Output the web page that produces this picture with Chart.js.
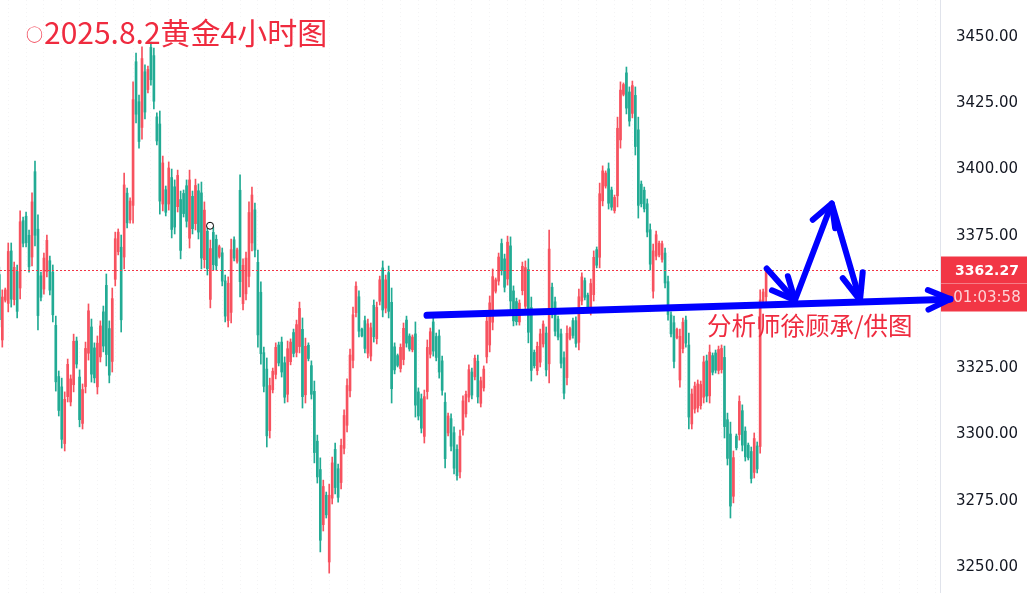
<!DOCTYPE html>
<html>
<head>
<meta charset="utf-8">
<script src="https://cdn.jsdelivr.net/npm/chart.js@4.4.1/dist/chart.umd.min.js"></script>
<style>
  html, body { margin: 0; padding: 0; background: #fff; overflow: hidden; }
  canvas { display: block; }
</style>
</head>
<body>
<canvas id="chart" width="1027" height="593"></canvas>
<script>
// 4h gold candles (oldest first)
const opens = [
  3360.4, 3335.7, 3350.7, 3349.5, 3369.3, 3350.9, 3361.5, 3355.3, 3380.7, 3382.4,
  3375.2, 3367.0, 3399.2, 3377.5, 3359.9, 3354.9, 3361.5, 3365.6, 3361.3, 3341.2,
  3321.9, 3318.0, 3296.6, 3314.3, 3312.3, 3318.8, 3335.3, 3321.7, 3304.2, 3318.1,
  3330.7, 3340.6, 3332.7, 3318.0, 3329.3, 3346.3, 3356.3, 3340.0, 3327.6, 3358.6,
  3369.0, 3370.7, 3367.0, 3391.1, 3381.0, 3386.5, 3440.7, 3425.6, 3415.9, 3436.9,
  3430.2, 3446.1, 3443.0, 3419.9, 3417.2, 3387.0, 3392.4, 3387.0, 3397.0, 3393.5,
  3386.0, 3388.7, 3391.0, 3393.9, 3374.1, 3389.9, 3379.6, 3392.0, 3391.2, 3366.0,
  3376.7, 3351.0, 3376.3, 3373.7, 3367.2, 3368.6, 3358.0, 3343.0, 3346.1, 3373.5,
  3365.4, 3392.2, 3349.4, 3353.1, 3359.7, 3372.3, 3384.8, 3365.0, 3353.7, 3330.9,
  3324.7, 3301.5, 3316.9, 3322.7, 3333.8, 3334.9, 3327.1, 3315.2, 3327.5, 3338.5,
  3331.0, 3333.2, 3339.7, 3315.0, 3333.7, 3326.0, 3316.3, 3297.5, 3286.8, 3266.0,
  3277.1, 3251.9, 3276.0, 3294.4, 3287.1, 3281.9, 3294.8, 3303.5, 3316.5, 3328.0,
  3346.0, 3352.0, 3339.8, 3343.0, 3330.7, 3329.6, 3348.8, 3336.2, 3350.3, 3362.9,
  3347.7, 3361.1, 3349.9, 3333.1, 3329.8, 3324.9, 3328.3, 3343.2, 3337.2, 3332.0,
  3338.0, 3316.1, 3313.5, 3299.3, 3316.2, 3330.3, 3342.5, 3337.0, 3337.2, 3327.8,
  3312.2, 3300.6, 3306.0, 3300.7, 3294.4, 3285.9, 3301.7, 3307.8, 3314.1, 3323.6,
  3321.8, 3327.7, 3311.8, 3317.6, 3329.3, 3333.8, 3342.4, 3354.1, 3357.9, 3372.1,
  3366.3, 3358.7, 3371.2, 3354.2, 3350.2, 3342.5, 3354.3, 3348.4, 3362.3, 3347.9,
  3331.0, 3324.1, 3327.3, 3334.2, 3338.3, 3326.7, 3355.6, 3350.1, 3343.6, 3338.0,
  3329.0, 3321.5, 3336.3, 3343.0, 3343.0, 3334.8, 3350.4, 3358.1, 3352.6, 3346.8,
  3352.8, 3369.8, 3366.9, 3388.2, 3393.8, 3400.3, 3392.3, 3384.5, 3390.1, 3411.2,
  3428.4, 3436.5, 3429.3, 3421.2, 3428.0, 3415.0, 3394.5, 3392.2, 3387.1, 3377.3,
  3354.1, 3367.3, 3367.8, 3366.1, 3368.5, 3357.7, 3345.1, 3342.2, 3336.6, 3320.6,
  3332.4, 3343.2, 3333.8, 3304.0, 3309.6, 3310.0, 3310.9, 3314.1, 3327.8, 3314.6,
  3329.8, 3330.8, 3324.2, 3324.5, 3329.1, 3305.6, 3300.2, 3276.7, 3299.4, 3300.0,
  3309.0, 3301.3, 3296.0, 3293.6, 3285.7, 3295.7, 3295.5, 3350.3, 3352.0
];
const highs = [
  3363.2, 3354.6, 3355.3, 3372.3, 3372.3, 3365.1, 3364.0, 3384.4, 3382.1, 3384.0,
  3377.2, 3391.2, 3403.2, 3382.9, 3361.3, 3368.5, 3375.3, 3367.4, 3364.0, 3344.7,
  3324.0, 3321.3, 3316.1, 3328.5, 3322.5, 3337.9, 3336.8, 3324.4, 3319.1, 3334.9,
  3349.3, 3343.6, 3334.6, 3337.2, 3342.9, 3348.5, 3360.6, 3342.9, 3355.3, 3376.4,
  3377.6, 3375.3, 3398.7, 3393.0, 3389.3, 3433.1, 3444.0, 3428.1, 3446.3, 3439.5,
  3439.1, 3448.1, 3445.9, 3421.4, 3422.1, 3405.1, 3393.8, 3402.9, 3400.2, 3396.1,
  3399.8, 3391.9, 3392.3, 3396.1, 3399.8, 3391.9, 3396.4, 3394.6, 3395.3, 3387.8,
  3379.1, 3373.4, 3378.3, 3375.3, 3371.5, 3370.4, 3360.2, 3359.5, 3373.8, 3374.6,
  3370.4, 3398.0, 3366.3, 3368.9, 3387.8, 3393.4, 3387.4, 3369.6, 3357.6, 3333.0,
  3328.9, 3321.3, 3325.1, 3334.6, 3334.9, 3336.8, 3329.3, 3335.3, 3336.1, 3339.8,
  3343.2, 3350.0, 3344.0, 3336.4, 3334.6, 3327.8, 3320.2, 3299.8, 3291.2, 3282.8,
  3278.3, 3281.3, 3291.5, 3296.8, 3288.9, 3298.3, 3309.3, 3321.0, 3332.3, 3348.1,
  3357.6, 3354.2, 3340.2, 3344.7, 3343.6, 3342.1, 3350.8, 3350.0, 3359.8, 3365.5,
  3360.2, 3363.6, 3355.3, 3334.6, 3330.4, 3334.2, 3342.1, 3344.7, 3338.0, 3337.6,
  3342.5, 3317.6, 3315.3, 3316.8, 3335.7, 3340.2, 3344.4, 3338.3, 3339.5, 3329.6,
  3315.7, 3308.1, 3307.8, 3302.9, 3296.1, 3301.7, 3314.6, 3316.4, 3326.3, 3325.1,
  3330.0, 3330.0, 3321.7, 3325.9, 3345.1, 3352.3, 3362.5, 3359.1, 3368.5, 3373.8,
  3368.1, 3374.9, 3374.6, 3356.1, 3351.5, 3350.8, 3365.1, 3365.5, 3366.3, 3351.9,
  3331.9, 3334.9, 3339.8, 3342.9, 3340.6, 3377.2, 3357.2, 3351.9, 3344.7, 3339.8,
  3331.2, 3341.0, 3340.6, 3344.0, 3344.4, 3354.9, 3361.0, 3359.1, 3353.4, 3358.7,
  3369.3, 3370.8, 3394.9, 3401.4, 3399.5, 3402.5, 3393.4, 3390.4, 3419.8, 3433.1,
  3432.7, 3438.7, 3431.2, 3433.4, 3431.2, 3419.8, 3395.7, 3393.4, 3388.9, 3379.5,
  3371.9, 3376.8, 3373.0, 3373.0, 3370.4, 3359.8, 3346.3, 3344.7, 3340.2, 3339.8,
  3344.0, 3344.7, 3338.3, 3317.2, 3319.8, 3320.6, 3320.2, 3329.6, 3330.0, 3333.8,
  3330.8, 3331.9, 3333.4, 3333.8, 3333.4, 3308.1, 3304.7, 3293.8, 3300.2, 3314.6,
  3311.2, 3302.9, 3296.8, 3295.3, 3300.6, 3297.2, 3354.6, 3354.9, 3362.9
];
const lows = [
  3340.6, 3333.0, 3350.0, 3346.3, 3348.1, 3348.9, 3344.0, 3351.2, 3370.8, 3370.8,
  3361.3, 3363.6, 3371.2, 3339.5, 3350.4, 3353.0, 3359.5, 3352.7, 3342.5, 3316.4,
  3307.0, 3294.9, 3293.8, 3312.3, 3310.8, 3316.1, 3325.1, 3302.9, 3302.1, 3315.7,
  3328.1, 3319.8, 3319.5, 3315.3, 3327.4, 3331.2, 3325.9, 3319.5, 3323.6, 3356.1,
  3367.8, 3338.7, 3362.5, 3378.0, 3379.8, 3379.8, 3417.6, 3408.1, 3411.5, 3419.1,
  3428.9, 3431.9, 3422.9, 3409.3, 3383.2, 3384.4, 3382.5, 3384.7, 3374.2, 3375.7,
  3384.0, 3366.3, 3382.1, 3378.3, 3370.4, 3375.7, 3377.2, 3373.8, 3362.5, 3362.9,
  3360.2, 3347.8, 3362.1, 3362.1, 3366.6, 3356.1, 3342.5, 3340.6, 3342.1, 3365.5,
  3364.7, 3351.9, 3347.0, 3350.8, 3355.7, 3369.3, 3367.0, 3333.0, 3326.6, 3316.1,
  3295.3, 3298.7, 3315.7, 3321.0, 3325.9, 3321.7, 3311.9, 3312.3, 3326.3, 3329.3,
  3329.3, 3330.8, 3310.0, 3311.9, 3327.8, 3313.4, 3289.3, 3281.7, 3255.7, 3263.6,
  3268.5, 3247.7, 3273.8, 3277.6, 3274.5, 3279.5, 3292.7, 3301.0, 3314.2, 3325.1,
  3344.4, 3336.8, 3336.8, 3330.8, 3328.9, 3327.8, 3334.9, 3334.2, 3348.9, 3344.4,
  3345.9, 3344.0, 3311.9, 3322.9, 3325.5, 3323.6, 3326.3, 3333.0, 3331.5, 3331.2,
  3306.6, 3305.5, 3300.6, 3296.8, 3313.4, 3328.9, 3329.6, 3327.8, 3321.3, 3314.9,
  3287.4, 3299.5, 3293.8, 3285.1, 3282.8, 3283.6, 3299.8, 3306.6, 3312.3, 3313.4,
  3320.6, 3311.9, 3310.4, 3316.4, 3327.0, 3331.2, 3339.5, 3353.4, 3356.4, 3360.2,
  3353.8, 3356.4, 3347.0, 3341.0, 3341.3, 3341.3, 3352.7, 3345.9, 3334.6, 3320.2,
  3325.1, 3322.5, 3325.5, 3333.0, 3322.1, 3319.5, 3344.0, 3337.2, 3335.7, 3325.1,
  3313.4, 3318.7, 3335.7, 3336.4, 3333.0, 3331.9, 3348.9, 3350.8, 3347.0, 3345.1,
  3350.4, 3362.9, 3362.9, 3386.3, 3393.0, 3385.1, 3384.7, 3383.6, 3385.9, 3408.1,
  3427.8, 3421.0, 3416.4, 3419.5, 3405.5, 3381.7, 3385.9, 3384.0, 3374.6, 3362.1,
  3351.5, 3365.9, 3367.0, 3365.1, 3355.3, 3343.2, 3336.8, 3325.1, 3336.1, 3317.9,
  3330.8, 3333.0, 3302.1, 3302.1, 3308.1, 3308.5, 3309.6, 3311.9, 3312.3, 3311.9,
  3322.5, 3323.2, 3322.9, 3323.2, 3298.7, 3288.5, 3268.5, 3274.2, 3294.2, 3297.9,
  3293.8, 3290.0, 3290.4, 3281.7, 3283.6, 3285.5, 3293.0, 3349.6, 3349.6
];
const closes = [
  3343.4, 3351.9, 3354.6, 3369.1, 3351.1, 3363.1, 3346.5, 3380.3, 3372.2, 3372.4,
  3363.3, 3387.8, 3375.2, 3344.9, 3351.8, 3366.6, 3373.3, 3354.5, 3345.2, 3319.9,
  3309.1, 3298.2, 3313.3, 3326.5, 3321.0, 3335.2, 3326.6, 3305.6, 3317.0, 3332.5,
  3346.7, 3322.8, 3321.4, 3334.5, 3341.0, 3333.4, 3330.2, 3322.4, 3351.3, 3373.9,
  3376.4, 3343.3, 3394.2, 3379.9, 3388.1, 3426.4, 3420.9, 3410.6, 3441.9, 3421.7,
  3437.8, 3433.9, 3425.8, 3410.8, 3388.1, 3402.5, 3383.9, 3400.6, 3377.4, 3378.3,
  3397.8, 3369.5, 3383.4, 3380.5, 3396.1, 3377.7, 3394.0, 3376.4, 3366.6, 3384.7,
  3362.6, 3370.2, 3364.1, 3363.7, 3370.9, 3357.9, 3344.7, 3357.1, 3369.8, 3366.6,
  3369.7, 3357.7, 3363.9, 3366.6, 3383.8, 3390.4, 3369.6, 3337.6, 3330.5, 3318.2,
  3299.5, 3318.5, 3323.9, 3332.9, 3327.0, 3323.6, 3314.1, 3332.4, 3334.9, 3330.6,
  3341.5, 3347.6, 3314.3, 3333.3, 3328.7, 3315.2, 3293.2, 3284.0, 3260.1, 3280.4,
  3269.7, 3277.1, 3289.3, 3280.0, 3276.3, 3295.9, 3307.2, 3318.5, 3330.0, 3345.2,
  3356.0, 3339.0, 3337.2, 3332.5, 3341.8, 3340.3, 3336.9, 3348.0, 3358.4, 3347.0,
  3358.4, 3346.5, 3317.3, 3324.4, 3326.1, 3332.9, 3340.1, 3334.5, 3332.3, 3336.8,
  3311.1, 3307.0, 3302.4, 3314.3, 3332.9, 3338.8, 3331.5, 3329.1, 3323.6, 3316.7,
  3290.9, 3307.0, 3295.6, 3287.3, 3284.5, 3299.4, 3312.7, 3315.2, 3324.5, 3314.9,
  3328.8, 3314.2, 3320.3, 3324.7, 3342.8, 3349.7, 3359.6, 3358.4, 3367.0, 3361.9,
  3355.6, 3372.6, 3350.4, 3342.9, 3342.6, 3349.6, 3363.5, 3363.0, 3338.6, 3324.2,
  3326.0, 3333.3, 3338.0, 3341.7, 3324.4, 3370.0, 3345.6, 3339.0, 3336.8, 3326.9,
  3315.6, 3338.2, 3340.0, 3337.4, 3334.4, 3352.0, 3359.5, 3351.8, 3347.8, 3357.0,
  3366.9, 3363.9, 3390.9, 3399.5, 3398.7, 3387.3, 3385.8, 3389.5, 3415.6, 3430.0,
  3432.1, 3423.2, 3418.3, 3431.7, 3408.7, 3386.5, 3387.1, 3385.2, 3376.4, 3364.3,
  3369.3, 3375.4, 3372.2, 3372.0, 3357.2, 3345.3, 3338.0, 3327.6, 3339.7, 3337.1,
  3342.4, 3334.5, 3306.6, 3315.3, 3318.3, 3319.1, 3318.9, 3327.4, 3314.5, 3331.1,
  3323.5, 3324.3, 3332.1, 3332.5, 3303.0, 3291.0, 3273.0, 3291.3, 3295.0, 3312.5,
  3296.0, 3291.6, 3291.2, 3283.4, 3298.5, 3287.0, 3350.8, 3353.8, 3362.27
];

const yTicks = [3250, 3275, 3300, 3325, 3350, 3375, 3400, 3425, 3450];
const titleText = '2025.8.2黄金4小时图';
const creditText = '分析师徐顾承/供图';
const countdown = '01:03:58';

// hand-drawn blue marks, in (candle index, price)
const trendLine = [[143.9, 3345.0], [319.9, 3351.1]];
const zigzag = [[258.2, 3362.7], [267.7, 3350.7], [280.1, 3387.2], [289.6, 3350.7]];
const cursorMark = [70.9, 3378.8];

const UP = '#f7525f';
const DOWN = '#22ab94';
const LAST = '#f23645';
const candleColor = (ctx) => closes[ctx.dataIndex] >= opens[ctx.dataIndex] ? UP : DOWN;

const wicks = highs.map((h, i) => ({ x: i, y: [lows[i], h] }));
const bodies = opens.map((o, i) => ({ x: i, y: [o, closes[i]] }));

const drawings = {
  id: 'drawings',
  afterDraw(chart) {
    const { ctx, chartArea, scales } = chart;
    const xs = scales.x, ys = scales.y;
    const px = (p) => [xs.getPixelForValue(p[0]), ys.getPixelForValue(p[1])];
    const last = closes[closes.length - 1];
    const py = Math.round(ys.getPixelForValue(last)) + 0.5;

    ctx.save();
    // last price dotted line
    ctx.strokeStyle = LAST;
    ctx.lineWidth = 1;
    ctx.setLineDash([2, 2]);
    ctx.beginPath();
    ctx.moveTo(chartArea.left, py);
    ctx.lineTo(chartArea.right, py);
    ctx.stroke();
    ctx.setLineDash([]);

    // price / countdown box on the axis
    const bx = chartArea.right + 1, bw = chart.width - bx;
    ctx.fillStyle = LAST;
    ctx.fillRect(bx, py - 14, bw, 55);
    ctx.strokeStyle = 'rgba(255,255,255,0.35)';
    ctx.beginPath();
    ctx.moveTo(bx, py + 13);
    ctx.lineTo(chart.width, py + 13);
    ctx.stroke();
    ctx.textAlign = 'center';
    ctx.textBaseline = 'middle';
    ctx.fillStyle = '#ffffff';
    ctx.font = 'bold 14px "DejaVu Sans"';
    ctx.fillText(last.toFixed(2), bx + bw / 2 + 3, py + 1);
    ctx.fillStyle = 'rgba(255,255,255,0.78)';
    ctx.font = '15px "DejaVu Sans"';
    ctx.fillText(countdown, bx + bw / 2 + 3, py + 28);

    // cursor ring
    const [cx, cy] = px(cursorMark);
    ctx.beginPath();
    ctx.arc(cx, cy, 3.5, 0, Math.PI * 2);
    ctx.fillStyle = '#fff';
    ctx.fill();
    ctx.strokeStyle = '#000';
    ctx.lineWidth = 1;
    ctx.stroke();

    // titles
    ctx.textAlign = 'left';
    ctx.textBaseline = 'alphabetic';
    ctx.fillStyle = '#ef2b3f';
    ctx.font = '17px "Noto Sans CJK SC"';
    ctx.fillText('○', 26, 41);
    ctx.font = '30px "Noto Sans CJK SC"';
    ctx.fillText(titleText, 44, 44);
    ctx.font = '24.5px "Noto Sans CJK SC"';
    ctx.fillText(creditText, 707, 335);

    // blue arrows
    const arrowHead = (from, to, len, ang) => {
      const a = Math.atan2(from[1] - to[1], from[0] - to[0]);
      ctx.beginPath();
      ctx.moveTo(to[0] + len * Math.cos(a + ang), to[1] + len * Math.sin(a + ang));
      ctx.lineTo(to[0], to[1]);
      ctx.lineTo(to[0] + len * Math.cos(a - ang), to[1] + len * Math.sin(a - ang));
      ctx.stroke();
    };
    ctx.strokeStyle = '#0000ff';
    ctx.lineCap = 'round';
    ctx.lineJoin = 'round';

    const t0 = px(trendLine[0]), t1 = px(trendLine[1]);
    ctx.lineWidth = 7;
    ctx.beginPath();
    ctx.moveTo(t0[0], t0[1]);
    ctx.lineTo(t1[0], t1[1]);
    ctx.stroke();
    ctx.lineWidth = 6;
    arrowHead(t0, t1, 24, 0.42);

    const z = zigzag.map(px);
    ctx.lineWidth = 6;
    ctx.beginPath();
    ctx.moveTo(z[0][0], z[0][1]);
    z.slice(1).forEach(p => ctx.lineTo(p[0], p[1]));
    ctx.stroke();
    arrowHead(z[0], z[1], 25, 0.44);
    arrowHead(z[1], z[2], 25, 0.5);
    arrowHead(z[2], z[3], 28, 0.38);
    ctx.restore();
  }
};

new Chart(document.getElementById('chart'), {
  type: 'bar',
  data: {
    datasets: [
      { data: wicks, backgroundColor: candleColor, barThickness: 1, grouped: false, order: 2 },
      { data: bodies, backgroundColor: candleColor, barThickness: 2, grouped: false, order: 1 }
    ]
  },
  options: {
    responsive: false,
    animation: false,
    devicePixelRatio: 1,
    layout: { padding: 0 },
    plugins: { legend: { display: false }, tooltip: { enabled: false } },
    scales: {
      x: {
        type: 'linear',
        min: 0.226,
        max: 316.51,
        offset: false,
        ticks: { display: false },
        border: { display: false, dash: [1, 3] },
        grid: { offset: false, drawTicks: false, color: 'rgba(42,46,57,0.05)' },
        afterBuildTicks: (s) => {
          const t = [];
          for (let v = 3; v < 316; v += 6) t.push({ value: v });
          s.ticks = t;
        },
        afterFit: (s) => { s.height = 0; s.paddingLeft = 0; s.paddingRight = 0; }
      },
      y: {
        position: 'right',
        min: 3240.2,
        max: 3464.0,
        grid: { drawOnChartArea: false, drawTicks: false },
        border: { display: true, color: '#e0e3eb' },
        ticks: {
          color: '#131722',
          font: { family: 'DejaVu Sans', size: 15 },
          padding: 16,
          callback: (v) => Number(v).toFixed(2)
        },
        afterBuildTicks: (s) => { s.ticks = yTicks.map(v => ({ value: v })); },
        afterFit: (s) => { s.width = 87; s.paddingTop = 0; s.paddingBottom = 0; }
      }
    }
  },
  plugins: [drawings]
});
</script>
</body>
</html>
